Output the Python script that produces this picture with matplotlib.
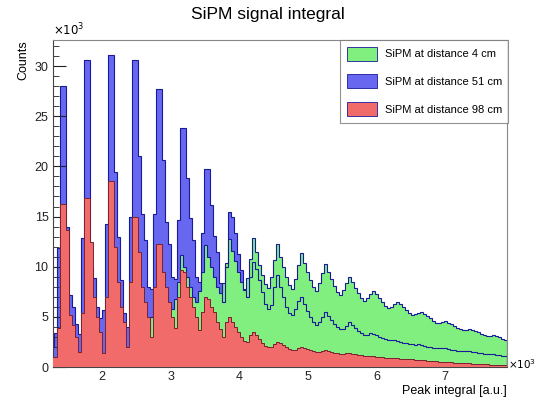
import numpy as np
import matplotlib
matplotlib.use("Agg")
import matplotlib.pyplot as plt
from matplotlib.patches import Patch

plt.rcParams['font.family'] = ['Liberation Sans', 'DejaVu Sans']

# histogram binning (peak integral, a.u.)
bin_start = 1249.0
bin_width = 43.75

# counts per bin, in units of 10^3
counts_51cm = [
    2.0, 3.4, 11.9,
    28.0, 28.0, 14.0, 7.2, 6.0, 4.3, 3.3, 12.9,
    30.6, 30.6, 9.9, 8.9, 6.0, 4.9, 5.7, 14.3,
    31.1, 31.1, 19.4, 13.0, 8.7, 5.4, 4.0, 15.0,
    30.6, 30.6, 21.0, 15.3, 12.7, 8.0, 7.8, 15.3,
    27.7, 27.7, 20.6, 14.5, 12.3, 9.0, 8.8, 14.7,
    23.8, 23.8, 18.8, 14.9, 12.7, 9.0, 8.5, 13.4,
    19.7, 19.7, 16.2, 13.1, 11.5, 8.4, 6.5, 10.0,
    15.5, 15.0, 13.4, 11.3, 9.7, 7.7, 7.0, 9.0,
    10.5, 9.8, 8.7, 7.5, 6.3, 5.8, 6.2, 8.0,
    9.2, 8.0, 7.0, 6.0, 5.4, 5.2, 5.8, 6.6,
    7.0, 6.3, 5.6, 5.0, 4.5, 4.2, 4.5, 5.0,
    5.5, 5.1, 4.7, 4.3, 4.0, 3.8, 3.8, 4.1,
    4.5, 4.2, 3.9, 3.6, 3.4, 3.2, 3.2, 3.4,
    3.3, 3.2, 3.0, 2.9, 2.8, 2.7, 2.7, 2.7,
    2.6, 2.5, 2.4, 2.4, 2.3, 2.3, 2.2, 2.3,
    2.2, 2.1, 2.0, 2.0, 1.9, 1.9, 1.9, 1.9,
    1.9, 1.8, 1.7, 1.7, 1.6, 1.6, 1.6, 1.6,
    1.6, 1.5, 1.5, 1.4, 1.4, 1.3, 1.3, 1.3,
    1.3, 1.2, 1.2, 1.1, 1.1,
]

counts_98cm = [
    1.0, 1.0, 3.9,
    16.3, 16.3, 13.7, 5.2, 4.2, 3.0, 1.5, 5.4,
    16.8, 16.8, 12.5, 7.0, 5.0, 3.5, 1.4, 7.0,
    18.5, 18.5, 12.0, 8.5, 6.0, 4.5, 2.0, 8.5,
    15.0, 15.0, 11.5, 8.0, 6.5, 5.0, 3.0, 8.0,
    12.3, 12.3, 9.5, 8.0, 6.5, 5.0, 3.9, 7.0,
    9.7, 9.5, 8.0, 7.0, 6.0, 5.0, 3.7, 5.5,
    7.0, 6.8, 6.0, 5.5, 4.5, 3.8, 3.0, 4.5,
    5.0, 4.5, 4.0, 3.5, 3.0, 2.6, 2.5, 3.2,
    3.5, 3.2, 2.8, 2.4, 2.1, 2.0, 2.0, 2.3,
    2.5, 2.4, 2.2, 2.0, 1.8, 1.7, 1.7, 1.9,
    2.0, 1.9, 1.8, 1.7, 1.6, 1.5, 1.5, 1.6,
    1.7, 1.6, 1.5, 1.4, 1.4, 1.3, 1.3, 1.4,
    1.4, 1.3, 1.3, 1.2, 1.2, 1.1, 1.1, 1.1,
    1.1, 1.0, 1.0, 1.0, 0.9, 0.9, 0.9, 0.9,
    0.9, 0.8, 0.8, 0.8, 0.8, 0.8, 0.7, 0.7,
    0.7, 0.7, 0.6, 0.6, 0.6, 0.6, 0.5, 0.5,
    0.5, 0.5, 0.5, 0.4, 0.4, 0.4, 0.4, 0.4,
    0.4, 0.3, 0.3, 0.3, 0.3, 0.3, 0.3, 0.2,
    0.2, 0.2, 0.2, 0.2, 0.2,
]

counts_4cm = [
    0.0, 0.0, 0.0,
    0.1, 0.1, 0.1, 0.1, 0.1, 0.1, 0.2, 0.2,
    0.3, 0.3, 0.3, 0.3, 0.3, 0.3, 0.4, 0.5,
    0.7, 0.7, 0.7, 0.7, 0.7, 0.7, 0.8, 1.0,
    1.3, 1.3, 1.3, 1.5, 2.0, 3.5, 5.0, 7.5,
    10.3, 9.0, 8.0, 7.0, 6.2, 5.8, 6.8, 8.5,
    11.2, 10.0, 9.0, 8.0, 7.0, 6.5, 7.6, 9.5,
    12.2, 11.0, 10.0, 9.0, 8.0, 7.4, 8.4, 10.4,
    12.8, 11.6, 10.6, 9.5, 8.5, 7.8, 8.9, 10.8,
    12.9, 11.5, 10.2, 9.2, 8.3, 7.9, 9.0, 10.7,
    12.3, 11.0, 10.0, 9.0, 8.2, 7.8, 8.8, 10.2,
    11.4, 10.4, 9.5, 8.7, 8.0, 7.6, 8.4, 9.4,
    10.3, 9.5, 8.8, 8.1, 7.5, 7.2, 7.7, 8.4,
    9.0, 8.5, 7.9, 7.4, 6.9, 6.6, 6.9, 7.3,
    7.6, 7.3, 6.9, 6.5, 6.1, 5.9, 6.0, 6.3,
    6.5, 6.3, 6.0, 5.7, 5.4, 5.2, 5.3, 5.4,
    5.5, 5.3, 5.1, 4.9, 4.6, 4.4, 4.4, 4.5,
    4.6, 4.4, 4.3, 4.1, 3.9, 3.8, 3.7, 3.7,
    3.8, 3.7, 3.6, 3.5, 3.3, 3.2, 3.1, 3.1,
    3.2, 3.1, 3.0, 2.8, 2.7,
]

labels = ["SiPM at distance 4 cm", "SiPM at distance 51 cm", "SiPM at distance 98 cm"]
fill_colors = ["#80ef80", "#6767ef", "#f26b6b"]
line_color = "#1a1a99"

n = len(counts_51cm)
edges = (bin_start + bin_width * np.arange(n + 1)) / 1000.0

fig = plt.figure(figsize=(5.36, 4.03), dpi=100)
ax = fig.add_axes([0.0995, 0.0893, 0.8465, 0.8114])

blue = np.array(counts_51cm)
green = np.array(counts_4cm)
red = np.array(counts_98cm)

# ROOT-like drawing order: 51 cm, 4 cm, 98 cm
ax.stairs(blue, edges, fill=True, color=fill_colors[1], lw=0, zorder=1)
ax.stairs(green, edges, fill=True, color=fill_colors[0], lw=0, zorder=2)
ax.stairs(blue, edges, color=line_color, lw=0.8, zorder=2.5)
ax.stairs(green, edges, color=line_color, lw=0.8, zorder=2.6)
ax.stairs(red, edges, fill=True, color=fill_colors[2], lw=0, zorder=3)
ax.stairs(red, edges, color="#7a2030", lw=0.7, zorder=3.1)

ax.set_xlim(1.29, 7.9)
ax.set_ylim(0, 32.6)

ax.set_xticks([2, 3, 4, 5, 6, 7])
ax.set_xticks(np.arange(1.4, 7.9, 0.2), minor=True)
ax.set_yticks([0, 5, 10, 15, 20, 25, 30])
ax.set_yticks(np.arange(0, 33, 1), minor=True)
ax.tick_params(axis='both', which='both', direction='in', labelsize=9, colors='#222222')
ax.tick_params(axis='y', which='major', length=9)
ax.tick_params(axis='y', which='minor', length=4.5)
ax.tick_params(axis='x', which='major', length=6, pad=3)
ax.tick_params(axis='x', which='minor', length=3)

for s in ['top', 'right']:
    ax.spines[s].set_color('#888888')
for s in ['left', 'bottom']:
    ax.spines[s].set_color('#444444')

fig.text(0.5, 0.965, "SiPM signal integral", ha='center', va='center', fontsize=12.5)
ax.text(0.0, 1.005, r"$\times10^{3}$", transform=ax.transAxes, ha='left', va='bottom', fontsize=8.5)
ax.text(1.002, 0.01, r"$\times10^{3}$", transform=ax.transAxes, ha='left', va='center', fontsize=7.5)
ax.set_ylabel("Counts", fontsize=9, loc='top')
ax.set_xlabel("Peak integral [a.u.]", fontsize=9, loc='right', labelpad=1)

handles = [Patch(facecolor=fill_colors[i], edgecolor=line_color, lw=0.6) for i in range(3)]
leg = ax.legend(handles, labels, loc='upper right', bbox_to_anchor=(1.003, 1.0),
                fontsize=8, frameon=True, fancybox=False, edgecolor='#777777',
                handlelength=2.7, handleheight=1.55, labelspacing=1.25,
                borderpad=0.6, handletextpad=0.7, borderaxespad=0.0)
leg.get_frame().set_linewidth(0.8)

fig.savefig("out.png", dpi=100)
